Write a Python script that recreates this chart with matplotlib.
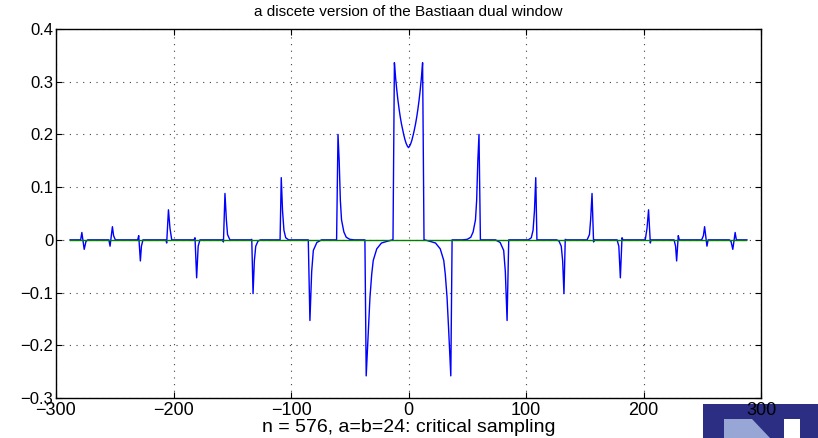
import matplotlib
matplotlib.use('Agg')
import matplotlib.pyplot as plt
from matplotlib.patches import Rectangle, Polygon
import numpy as np

plt.rcParams['font.family'] = ['Liberation Sans', 'DejaVu Sans']

# vertices of the dual window for n <= 0 (the window is even)
x_left = [
    -288, -279, -278, -276, -274.5, -273,
    -255, -254, -252, -251, -249.5,
    -230.5, -229.6, -228.2, -227.3, -226,
    -206.5, -205.8, -204.3, -203, -201.5,
    -182.5, -181.7, -180.3, -179, -177.5,
    -158.3, -157.5, -156.2, -155, -154, -152,
    -134.2, -133.4, -132.3, -131.2, -130, -128, -126,
    -110, -109.3, -108.3, -107.2, -106, -104.5, -102,
    -86, -85.3, -83.9, -82.4, -81, -78, -74,
    -62, -61.2, -60, -59, -58, -57, -55, -53, -50, -46,
    -38, -37.1, -36, -34.2, -32.8, -31.3, -30, -27, -23, -17, -13.6,
    -13.2, -12, -11, -10, -9, -8, -7, -6, -5, -4, -3, -2, -1, 0,
]
y_left = [
    0.0, 0.0, 0.014, -0.018, -0.003, 0.0,
    0.0, -0.012, 0.025, 0.008, 0.0,
    0.0, 0.008, -0.040, -0.012, 0.0,
    0.0, -0.006, 0.057, 0.022, 0.0,
    0.0, 0.004, -0.072, -0.012, 0.0,
    0.0, -0.004, 0.088, 0.038, 0.010, 0.0,
    0.0, 0.001, -0.102, -0.040, -0.012, -0.002, 0.0,
    0.0, 0.0, 0.118, 0.055, 0.018, 0.004, 0.0,
    0.0, 0.0, -0.153, -0.060, -0.020, -0.005, 0.0,
    0.0, 0.0, 0.200, 0.150, 0.075, 0.038, 0.015, 0.005, 0.001, 0.0,
    0.0, 0.0, -0.258, -0.172, -0.109, -0.065, -0.039, -0.017, -0.006, -0.002, 0.0,
    0.0, 0.336, 0.308, 0.285, 0.265, 0.248, 0.233, 0.220, 0.209, 0.199, 0.190, 0.183, 0.178, 0.175,
]

x_left = np.array(x_left)
y_left = np.array(y_left)
x = np.concatenate([x_left, -x_left[-2::-1]])
y = np.concatenate([y_left, y_left[-2::-1]])

xticks = [-300, -200, -100, 0, 100, 200, 300]
yticks = [-0.3, -0.2, -0.1, 0, 0.1, 0.2, 0.3, 0.4]
ytick_labels = ['\u22120.3', '\u22120.2', '\u22120.1', '0', '0.1', '0.2', '0.3', '0.4']
xtick_labels = ['\u2212300', '\u2212200', '\u2212100', '0', '100', '200', '300']

fig = plt.figure(figsize=(8.18, 4.38), dpi=100)
ax = fig.add_axes([56 / 818, 40 / 438, 705 / 818, 369 / 438])

ax.plot(x, y, color='#0000ff', lw=1.0)
ax.plot([-288, 287], [0, 0], color=(0, 0.5, 0), lw=1.0)

ax.set_xlim(-300, 300)
ax.set_ylim(-0.3, 0.4)
ax.set_xticks(xticks)
ax.set_xticklabels(xtick_labels)
ax.set_yticks(yticks)
ax.set_yticklabels(ytick_labels)
ax.tick_params(direction='in', top=True, right=True, length=4, width=0.8)
ax.tick_params(axis='x', labelsize=13, pad=3)
ax.tick_params(axis='y', labelsize=12, pad=2)
ax.grid(True, color='#444444', linestyle=(0, (1, 5)), lw=0.8)
for s in ax.spines.values():
    s.set_linewidth(1.0)

ax.set_title('a discete version of the Bastiaan dual window', fontsize=11, pad=9)
ax.set_xlabel('n = 576, a=b=24: critical sampling', fontsize=14, labelpad=0)

# logo in the lower right corner
W, H = 818.0, 438.0
fig.patches.append(Rectangle((703 / W, 0), 115 / W, 34 / H, transform=fig.transFigure,
                             facecolor='#2b2e83', edgecolor='none', zorder=-1))
fig.patches.append(Polygon([(724 / W, 0), (724 / W, 19 / H), (752 / W, 19 / H), (770 / W, 0)],
                           closed=True, transform=fig.transFigure,
                           facecolor='#98a6d6', edgecolor='none', zorder=-1))
fig.patches.append(Rectangle((784 / W, 0), 16 / W, 19 / H, transform=fig.transFigure,
                             facecolor='white', edgecolor='none', zorder=-1))

plt.savefig('out.png', dpi=100)
